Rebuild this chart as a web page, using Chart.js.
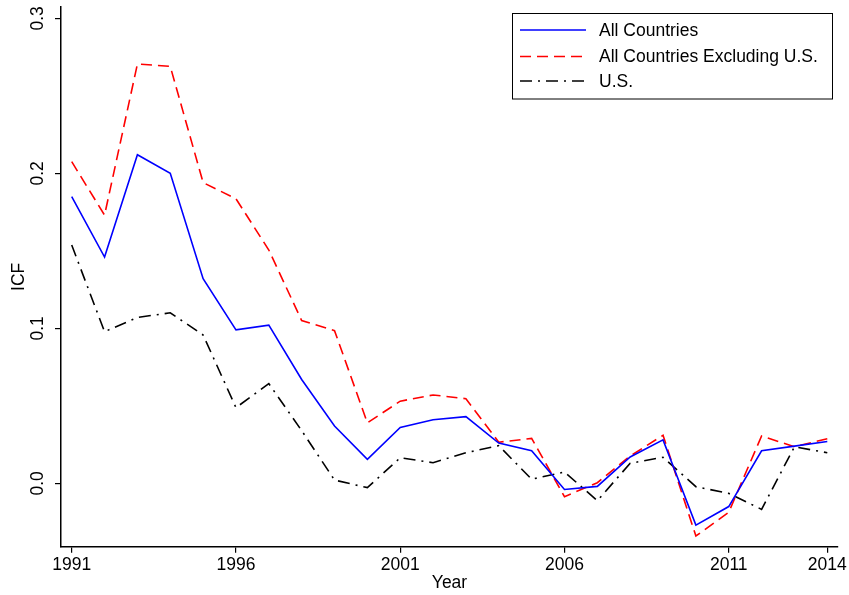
<!DOCTYPE html>
<html>
<head>
<meta charset="utf-8">
<script src="https://cdn.jsdelivr.net/npm/chart.js@4/dist/chart.umd.min.js"></script>
<style>
html,body{margin:0;padding:0;background:#fff;}
#wrap{width:849px;height:595px;}
</style>
</head>
<body>
<div id="wrap"><canvas id="c" width="849" height="595"></canvas></div>
<script>
const years = [1991,1992,1993,1994,1995,1996,1997,1998,1999,2000,2001,2002,2003,2004,2005,2006,2007,2008,2009,2010,2011,2012,2013,2014];
const allCountries = [0.185,0.146,0.212,0.200,0.132,0.099,0.102,0.067,0.037,0.0155,0.036,0.041,0.043,0.026,0.021,-0.004,-0.002,0.017,0.028,-0.027,-0.015,0.021,0.024,0.027];
const exclUS = [0.2075,0.173,0.2705,0.269,0.194,0.1836,0.1505,0.105,0.0985,0.039,0.053,0.057,0.0546,0.0265,0.029,-0.0086,0.0004,0.0176,0.031,-0.034,-0.0187,0.0305,0.0236,0.0288];
const us = [0.1537,0.0978,0.107,0.110,0.0957,0.0488,0.0643,0.034,0.0021,-0.0028,0.0165,0.0133,0.0197,0.0243,0.0026,0.0073,-0.0112,0.0129,0.0168,-0.0022,-0.0065,-0.0168,0.0236,0.0197];
const xTicks = [1991,1996,2001,2006,2011,2014];
const yTicks = [0.0,0.1,0.2,0.3];
const yTickLabels = ["0.0","0.1","0.2","0.3"];
const seriesLabels = ["All Countries","All Countries Excluding U.S.","U.S."];

const FONT = "'Liberation Sans', Arial, Helvetica, sans-serif";
const FS = 17.5;

function pts(vals){ return years.map((y,i)=>({x:y,y:vals[i]})); }

const yLabelPlugin = {
  id:'yLabels',
  afterDraw(chart){
    const ctx = chart.ctx, ys = chart.scales.y;
    ctx.save();
    ctx.font = FS + "px " + FONT;
    ctx.fillStyle = '#000';
    ctx.textAlign = 'center';
    ctx.textBaseline = 'middle';
    yTicks.forEach((v,i)=>{
      const py = ys.getPixelForValue(v);
      ctx.save();
      ctx.translate(38, py);
      ctx.rotate(-Math.PI/2);
      ctx.fillText(yTickLabels[i], 0, 0);
      ctx.restore();
    });
    ctx.restore();
  }
};

const legendPlugin = {
  id:'boxLegend',
  afterDraw(chart){
    const ctx = chart.ctx;
    ctx.save();
    ctx.strokeStyle = '#000';
    ctx.lineWidth = 1;
    ctx.setLineDash([]);
    ctx.strokeRect(512.5, 13.5, 320, 85.5);
    const rows = [30, 56.5, 81];
    chart.data.datasets.forEach((ds,i)=>{
      ctx.save();
      ctx.strokeStyle = ds.borderColor;
      ctx.lineWidth = ds.borderWidth;
      ctx.setLineDash(ds.borderDash || []);
      ctx.beginPath();
      ctx.moveTo(520, rows[i]);
      ctx.lineTo(586, rows[i]);
      ctx.stroke();
      ctx.restore();
      ctx.font = FS + "px " + FONT;
      ctx.fillStyle = '#000';
      ctx.textAlign = 'left';
      ctx.textBaseline = 'middle';
      ctx.fillText(ds.label, 599, rows[i] + 1);
    });
    ctx.restore();
  }
};

new Chart(document.getElementById('c'), {
  type:'line',
  data:{
    datasets:[
      {label:seriesLabels[0], data:pts(allCountries), borderColor:'#0000ff', borderWidth:1.6, borderDash:[], pointRadius:0, tension:0, fill:false},
      {label:seriesLabels[1], data:pts(exclUS), borderColor:'#ff0000', borderWidth:1.6, borderDash:[11,6], pointRadius:0, tension:0, fill:false},
      {label:seriesLabels[2], data:pts(us), borderColor:'#000000', borderWidth:1.6, borderDash:[12,6,2,6], pointRadius:0, tension:0, fill:false}
    ]
  },
  options:{
    responsive:false,
    animation:false,
    events:[],
    layout:{padding:{top:7,right:11,left:0,bottom:0}},
    plugins:{legend:{display:false}, tooltip:{enabled:false}},
    scales:{
      x:{
        type:'linear',
        min:1990.674, max:2014.326,
        afterBuildTicks(s){ s.ticks = xTicks.map(v=>({value:v})); },
        afterFit(s){ s.height = 48.3; },
        grid:{display:true, drawOnChartArea:false, drawTicks:true, tickLength:6, color:'#000', lineWidth:1.2},
        border:{display:true, color:'#000', width:1.5},
        ticks:{color:'#000', font:{family:FONT, size:FS}, padding:2, maxRotation:0, minRotation:0, autoSkip:false, callback:(v)=>String(v)},
        title:{display:true, text:'Year', color:'#000', font:{family:FONT, size:FS}, padding:{top:0,bottom:1}}
      },
      y:{
        type:'linear',
        min:-0.0409, max:0.3073,
        afterBuildTicks(s){ s.ticks = yTicks.map(v=>({value:v})); },
        afterFit(s){ s.width = 61; },
        grid:{display:true, drawOnChartArea:false, drawTicks:true, tickLength:6, color:'#000', lineWidth:1.2},
        border:{display:true, color:'#000', width:1.5},
        ticks:{display:false},
        title:{display:true, text:'ICF', color:'#000', font:{family:FONT, size:FS}, padding:{top:9,bottom:0}}
      }
    }
  },
  plugins:[yLabelPlugin, legendPlugin]
});
</script>
</body>
</html>
